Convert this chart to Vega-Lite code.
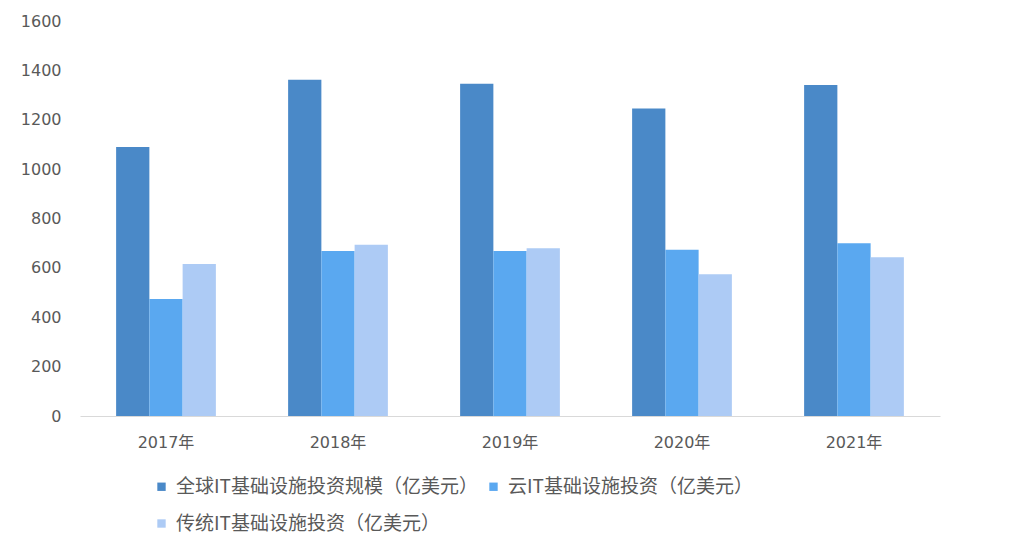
{
  "$schema": "https://vega.github.io/schema/vega-lite/v6.json",
  "autosize": {"type": "none"},
  "width": 860,
  "height": 395,
  "padding": {"left": 80, "top": 21, "right": 69, "bottom": 125},
  "background": "white",
  "config": {
    "view": {"stroke": null},
    "font": "Noto Sans CJK SC"
  },
  "data": {
    "values": [
      {"year": "2017年", "series": "全球IT基础设施投资规模（亿美元）", "value": 1090},
      {"year": "2017年", "series": "云IT基础设施投资（亿美元）", "value": 474},
      {"year": "2017年", "series": "传统IT基础设施投资（亿美元）", "value": 616},
      {"year": "2018年", "series": "全球IT基础设施投资规模（亿美元）", "value": 1362},
      {"year": "2018年", "series": "云IT基础设施投资（亿美元）", "value": 668},
      {"year": "2018年", "series": "传统IT基础设施投资（亿美元）", "value": 694},
      {"year": "2019年", "series": "全球IT基础设施投资规模（亿美元）", "value": 1346},
      {"year": "2019年", "series": "云IT基础设施投资（亿美元）", "value": 668},
      {"year": "2019年", "series": "传统IT基础设施投资（亿美元）", "value": 679},
      {"year": "2020年", "series": "全球IT基础设施投资规模（亿美元）", "value": 1246},
      {"year": "2020年", "series": "云IT基础设施投资（亿美元）", "value": 673},
      {"year": "2020年", "series": "传统IT基础设施投资（亿美元）", "value": 574},
      {"year": "2021年", "series": "全球IT基础设施投资规模（亿美元）", "value": 1341},
      {"year": "2021年", "series": "云IT基础设施投资（亿美元）", "value": 700},
      {"year": "2021年", "series": "传统IT基础设施投资（亿美元）", "value": 643}
    ]
  },
  "mark": {"type": "bar"},
  "encoding": {
    "x": {
      "field": "year",
      "type": "nominal",
      "scale": {"paddingInner": 0.42, "paddingOuter": 0.21},
      "axis": {
        "title": null,
        "labelAngle": 0,
        "ticks": false,
        "domainColor": "#d9d9d9",
        "domainWidth": 1,
        "labelColor": "#595959",
        "labelFontSize": 16,
        "labelPadding": 26,
        "labelBaseline": "middle",
        "labelFont": "DejaVu Sans, Noto Sans CJK SC"
      }
    },
    "xOffset": {
      "field": "series",
      "type": "nominal",
      "sort": ["全球IT基础设施投资规模（亿美元）", "云IT基础设施投资（亿美元）", "传统IT基础设施投资（亿美元）"],
      "scale": {"paddingInner": 0, "paddingOuter": 0}
    },
    "y": {
      "field": "value",
      "type": "quantitative",
      "scale": {"domain": [0, 1600]},
      "axis": {
        "title": null,
        "values": [0, 200, 400, 600, 800, 1000, 1200, 1400, 1600],
        "format": "d",
        "grid": false,
        "domain": false,
        "ticks": false,
        "labelColor": "#595959",
        "labelFontSize": 16,
        "labelPadding": 19,
        "labelFont": "DejaVu Sans"
      }
    },
    "color": {
      "field": "series",
      "type": "nominal",
      "scale": {
        "domain": ["全球IT基础设施投资规模（亿美元）", "云IT基础设施投资（亿美元）", "传统IT基础设施投资（亿美元）"],
        "range": ["#4a89c8", "#5aa8f0", "#adcbf5"]
      },
      "legend": {
        "title": null,
        "orient": "none",
        "legendX": 72,
        "legendY": 456,
        "direction": "horizontal",
        "columns": 2,
        "symbolType": "square",
        "symbolSize": 70,
        "labelOffset": 5,
        "labelFontSize": 19,
        "labelColor": "#595959",
        "labelFont": "Noto Sans CJK SC",
        "labelLimit": 500,
        "columnPadding": 6,
        "rowPadding": 17,
        "symbolStrokeWidth": 0
      }
    }
  }
}
